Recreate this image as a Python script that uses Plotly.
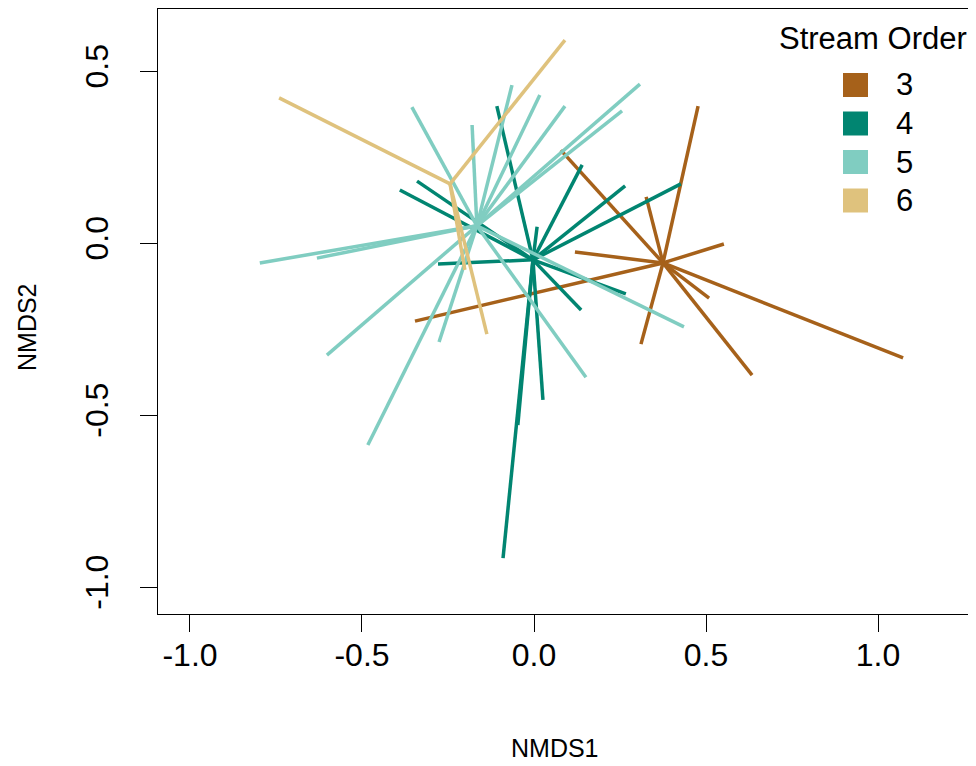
import plotly.graph_objects as go

# ---- data ----
groups = ["3", "4", "5", "6"]
colors = ["#A6611A", "#018571", "#80CDC1", "#DFC27D"]

# group centroids (NMDS1, NMDS2)
cent_x = [0.375, -0.003, -0.166, -0.244]
cent_y = [-0.058, -0.049, 0.050, 0.172]

# site scores per stream order
x3 = [0.477, 0.078, 0.326, 0.552, 0.119, 0.509, 1.073, 0.634, 0.311, -0.346]
y3 = [0.398, 0.270, 0.134, -0.003, -0.026, -0.160, -0.334, -0.384, -0.294, -0.227]

x4 = [-0.108, 0.140, 0.265, 0.427, -0.390, -0.340, 0.009, -0.279, 0.267, 0.137, 0.026, -0.090, -0.047]
y4 = [0.398, 0.227, 0.166, 0.172, 0.154, 0.180, 0.047, -0.061, -0.148, -0.195, -0.456, -0.916, -0.529]

x5 = [-0.355, -0.180, -0.064, 0.017, 0.090, 0.308, 0.256, -0.797, -0.631, -0.602, -0.483, -0.276, 0.151, 0.436]
y5 = [0.395, 0.343, 0.459, 0.430, 0.398, 0.462, 0.384, -0.058, -0.044, -0.326, -0.587, -0.288, -0.390, -0.244]

x6 = [-0.741, 0.090, -0.137, -0.201]
y6 = [0.422, 0.590, -0.265, -0.078]

xs = [x3, x4, x5, x6]
ys = [y3, y4, y5, y6]

tick_vals = [-1.0, -0.5, 0.0, 0.5, 1.0]
tick_text = ["-1.0", "-0.5", "0.0", "0.5", "1.0"]
y_tick_vals = [-1.0, -0.5, 0.0, 0.5]
y_tick_text = ["-1.0", "-0.5", "0.0", "0.5"]

FONT = "Liberation Sans, Arial, sans-serif"
FS_TICK = 32
FS_TITLE = 25
FS_LEG = 31

fig = go.Figure()
for g, col, cx, cy, px, py in zip(groups, colors, cent_x, cent_y, xs, ys):
    sx, sy = [], []
    for a, b in zip(px, py):
        sx += [cx, a, None]
        sy += [cy, b, None]
    fig.add_trace(go.Scatter(x=sx, y=sy, mode="lines", name=g,
                             line=dict(color=col, width=3.5),
                             showlegend=False, hoverinfo="skip"))

# ---- layout geometry (page pixels; page body has an 8px margin) ----
OFF = 8
W, H = 976 - OFF, 766 - OFF
L, R, T, B = 158, 974, 9, 614  # plot frame in page pixels
X_RANGE = [-1.093, (R - 534) / 344.0]
Y_RANGE = [(243 - B) / 344.0, (243 - T) / 344.0]


def px2paper(px, py):
    return (px - L) / (R - L), (B - py) / (B - T)


shapes = []
annotations = []
# legend title
tx, ty = px2paper(777, 39)
annotations.append(dict(x=tx, y=ty, xref="paper", yref="paper", text="Stream Order",
                        showarrow=False, xanchor="left", yanchor="middle",
                        font=dict(family=FONT, size=FS_LEG, color="black")))
for i, (g, col) in enumerate(zip(groups, colors)):
    cyp = 85 + i * 38.5
    x0, y0 = px2paper(843, cyp + 12)
    x1, y1 = px2paper(868, cyp - 12)
    shapes.append(dict(type="rect", xref="paper", yref="paper", x0=x0, x1=x1, y0=y0, y1=y1,
                       fillcolor=col, line=dict(width=0)))
    lx, ly = px2paper(894, cyp)
    annotations.append(dict(x=lx, y=ly, xref="paper", yref="paper", text=g,
                            showarrow=False, xanchor="left", yanchor="middle",
                            font=dict(family=FONT, size=FS_LEG, color="black")))

# axis titles
ax, ay = px2paper(555, 748)
annotations.append(dict(x=ax, y=ay, xref="paper", yref="paper", text="NMDS1",
                        showarrow=False, xanchor="center", yanchor="middle",
                        font=dict(family=FONT, size=FS_TITLE, color="black")))
ax, ay = px2paper(27, 327)
annotations.append(dict(x=ax, y=ay, xref="paper", yref="paper", text="NMDS2",
                        showarrow=False, xanchor="center", yanchor="middle", textangle=-90,
                        font=dict(family=FONT, size=FS_TITLE, color="black")))

fig.update_layout(
    width=W, height=H,
    margin=dict(l=L - OFF, r=W - (R - OFF), t=T - OFF, b=H - (B - OFF)),
    paper_bgcolor="white", plot_bgcolor="white",
    font=dict(family=FONT, size=FS_TICK, color="black"),
    showlegend=False,
    shapes=shapes,
    annotations=annotations,
    xaxis=dict(range=X_RANGE, showgrid=False, zeroline=False,
               showline=True, mirror=True, linecolor="black", linewidth=1,
               ticks="outside", ticklen=17, tickcolor="black", tickwidth=1,
               tickvals=tick_vals, ticktext=tick_text, ticklabelstandoff=-4,
               tickfont=dict(size=FS_TICK)),
    yaxis=dict(range=Y_RANGE, showgrid=False, zeroline=False,
               showline=True, mirror=True, linecolor="black", linewidth=1,
               ticks="outside", ticklen=17, tickcolor="black", tickwidth=1,
               tickvals=y_tick_vals, ticktext=y_tick_text, tickangle=-90,
               ticklabelstandoff=19, tickfont=dict(size=FS_TICK)),
)

fig.write_html("out.html")
